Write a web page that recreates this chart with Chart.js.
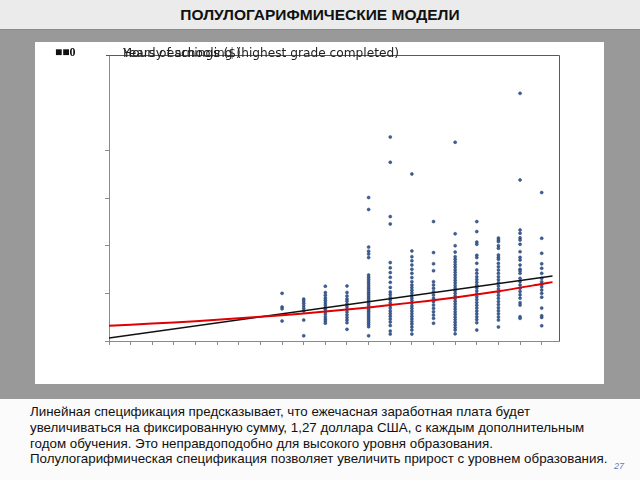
<!DOCTYPE html>
<html>
<head>
<meta charset="utf-8">
<script src="https://cdn.jsdelivr.net/npm/chart.js@4"></script>
<style>
  body { margin: 0; width: 640px; height: 480px; position: relative; overflow: hidden; background: #fbfbfb; font-family: "Liberation Sans", Arial, sans-serif; }
  #head { position: absolute; left: 0; top: 0; width: 640px; height: 29px; background: #ebebeb; text-align: center; font-weight: bold; font-size: 15.5px; line-height: 30px; color: #111; }
  #band { position: absolute; left: 0; top: 29px; width: 640px; height: 369px; background: #999; border-top: 1px solid #8a8a8a; }
  #panel { position: absolute; left: 35px; top: 42px; width: 569px; height: 342px; background: #fff; }
  #note { position: absolute; left: 30px; top: 404px; font-size: 13.35px; line-height: 15.8px; color: #111; white-space: nowrap; }
  #page { position: absolute; left: 614px; top: 461px; font-size: 9px; font-style: italic; color: #5b7fc7; }
</style>
</head>
<body>
<div id="head">ПОЛУЛОГАРИФМИЧЕСКИЕ МОДЕЛИ</div>
<div id="band"></div>
<div id="panel"><canvas id="chart" width="569" height="342"></canvas></div>
<div id="note">
Линейная спецификация предсказывает, что ежечасная заработная плата будет<br>
увеличиваться на фиксированную сумму, 1,27 доллара США, с каждым дополнительным<br>
годом обучения. Это неправдоподобно для высокого уровня образования.<br>
Полулогарифмическая спецификация позволяет увеличить прирост с уровнем образования.
</div>
<div id="page">27</div>
<script>
// years of schooling for each column of points
const schooling = [8, 9, 10, 11, 12, 13, 14, 15, 16, 17, 18, 19, 20]

// hourly earnings ($) read per column
const earn8 = [20.0, 14.3, 13.5, 8.4]
const earn9 = [17.6, 16.8, 15.8, 14.8, 13.7, 12.6, 8.8, 2.2]
const earn10 = [23.0, 20.3, 19.2, 18.0, 17.1, 16.1, 15.1, 14.1, 13.3, 12.3, 11.3, 10.2, 9.2, 8.4, 7.5]
const earn11 = [23.1, 20.4, 18.9, 17.6, 16.7, 15.5, 14.4, 13.3, 12.2, 11.0, 9.9, 8.8, 7.7, 4.9]
const earn12 = [60.2, 55.2, 39.4, 37.7, 36.5, 35.0, 27.7, 26.7, 25.8, 24.9, 24.0, 23.1, 22.2, 21.4, 20.5, 19.7, 18.9, 18.1, 17.3, 16.5, 15.7, 14.9, 14.1, 13.3, 12.5, 11.7, 10.9, 10.1, 9.3, 8.5, 7.7, 6.9, 6.0, 2.2]
const earn13 = [85.6, 75.0, 52.2, 49.1, 32.9, 30.7, 28.7, 26.7, 24.6, 22.5, 20.6, 19.5, 18.3, 17.2, 16.0, 14.9, 13.8, 12.6, 11.5, 10.4, 9.2, 8.0, 6.5, 4.2, 2.9]
const earn14 = [70.1, 37.8, 35.4, 33.7, 31.9, 30.1, 28.4, 26.6, 24.9, 23.5, 22.4, 21.3, 20.2, 19.1, 18.0, 17.0, 15.9, 14.8, 13.7, 12.6, 11.5, 10.4, 9.3, 8.2, 7.1, 5.9, 4.6, 2.9]
const earn15 = [50.1, 37.1, 32.4, 29.5, 24.9, 23.5, 22.1, 20.7, 19.3, 17.9, 16.5, 15.1, 13.7, 12.3, 10.9, 9.5, 7.5]
const earn16 = [83.4, 45.0, 40.0, 37.3, 35.4, 34.3, 33.2, 32.1, 31.0, 29.9, 28.8, 27.7, 26.6, 25.5, 24.4, 23.3, 22.2, 21.1, 20.0, 18.9, 17.8, 16.7, 15.6, 14.5, 13.4, 12.3, 11.2, 10.1, 9.0, 7.9, 6.8, 5.7, 4.6, 3.0]
const earn17 = [50.1, 45.9, 41.5, 40.6, 36.0, 35.0, 32.6, 29.8, 28.4, 27.0, 25.8, 24.6, 23.4, 22.2, 21.0, 19.8, 18.6, 17.4, 16.2, 15.0, 13.8, 12.6, 11.4, 10.2, 9.0, 7.7, 4.6]
const earn18 = [43.2, 42.4, 41.7, 40.0, 38.9, 36.1, 35.1, 34.3, 32.6, 31.2, 29.8, 28.4, 27.0, 25.7, 24.4, 23.1, 21.8, 20.5, 19.2, 17.9, 16.6, 15.3, 14.0, 12.7, 11.4, 10.1, 8.8, 5.9]
const earn19 = [103.9, 67.6, 46.6, 45.2, 43.3, 42.4, 40.6, 37.5, 35.1, 34.0, 31.9, 30.1, 29.5, 28.4, 26.3, 24.9, 23.5, 22.1, 20.8, 19.4, 18.0, 16.1, 15.1, 10.2, 9.5]
const earn20 = [62.3, 43.1, 36.8, 32.4, 30.5, 28.4, 26.3, 24.9, 23.8, 22.8, 21.4, 20.0, 18.4, 13.8, 10.6, 9.9, 6.4]
const earnings = [earn8, earn9, earn10, earn11, earn12, earn13, earn14, earn15, earn16, earn17, earn18, earn19, earn20]

// fitted lines
const linearS = [0, 20.5]
const linearFit = [1.3, 27.3]
const semilogS = [0, 2, 4, 6, 8, 10, 12, 14, 16, 18, 20, 20.5]
const semilogFit = [6.4, 7.3, 8.3, 9.5, 10.8, 12.4, 14.1, 16.1, 18.3, 20.9, 23.9, 24.7]

const xTicks = [0, 1, 2, 3, 4, 5, 6, 7, 8, 9, 10, 11, 12, 13, 14, 15, 16, 17, 18, 19, 20]
const yTicks = [0, 20, 40, 60, 80]

const yLabel = "Hourly earnings ($)"
const xLabel = "Years of schooling (highest grade completed)"
const topTick = "■■0"

const points = []
schooling.forEach((s, i) => {
    earnings[i].forEach((e) => points.push({ x: s, y: e }))
})

const pair = (xs, ys) => xs.map((x, i) => ({ x: x, y: ys[i] }))

const frameAndText = {
    id: "frameAndText",
    beforeDatasetsDraw(chart) {
        const { ctx, chartArea: a } = chart
        ctx.save()
        ctx.strokeStyle = "#5a5a5a"
        ctx.lineWidth = 1
        ctx.beginPath()
        ctx.moveTo(a.left - 3, a.top + 0.5)
        ctx.lineTo(a.right + 0.5, a.top + 0.5)
        ctx.lineTo(a.right + 0.5, a.bottom)
        ctx.stroke()
        ctx.restore()
    },
    afterDraw(chart) {
        const { ctx } = chart
        ctx.save()
        ctx.fillStyle = "#111"
        ctx.font = "bold 12px 'Liberation Serif'"
        ctx.textBaseline = "alphabetic"
        ctx.fillText(topTick, 20, 14)
        ctx.fillStyle = "#222"
        ctx.font = "12.2px 'DejaVu Sans'"
        ctx.fillText(xLabel, 88, 15)
        ctx.fillText(yLabel, 88, 15)
        ctx.restore()
    }
}

new Chart(document.getElementById("chart"), {
    type: "scatter",
    data: {
        datasets: [{
            type: "line",
            data: pair(semilogS, semilogFit),
            borderColor: "#e00000",
            borderWidth: 2,
            pointRadius: 0,
            tension: 0.3
        }, {
            type: "line",
            data: pair(linearS, linearFit),
            borderColor: "#111",
            borderWidth: 1.5,
            pointRadius: 0
        }, {
            data: points,
            pointRadius: 1.5,
            pointStyle: "circle",
            backgroundColor: "#3a62a0",
            borderColor: "#2a3f63",
            borderWidth: 0.5
        }]
    },
    options: {
        responsive: false,
        animation: false,
        layout: { padding: { top: 13, right: 45, left: 0, bottom: 0 } },
        plugins: {
            legend: { display: false },
            tooltip: { enabled: false }
        },
        scales: {
            x: {
                type: "linear",
                min: 0,
                max: 20.8,
                afterBuildTicks: (s) => { s.ticks = xTicks.map((v) => ({ value: v })) },
                afterFit: (s) => { s.height = 43 },
                ticks: { display: false },
                grid: { drawOnChartArea: false, tickLength: 4, color: "#8a8a8a" },
                border: { color: "#8a8a8a" }
            },
            y: {
                min: 0,
                max: 120,
                afterBuildTicks: (s) => { s.ticks = yTicks.map((v) => ({ value: v })) },
                afterFit: (s) => { s.width = 74 },
                ticks: { display: false },
                grid: { drawOnChartArea: false, tickLength: 4, color: "#8a8a8a" },
                border: { color: "#8a8a8a" }
            }
        }
    },
    plugins: [frameAndText]
})
</script>
</body>
</html>
